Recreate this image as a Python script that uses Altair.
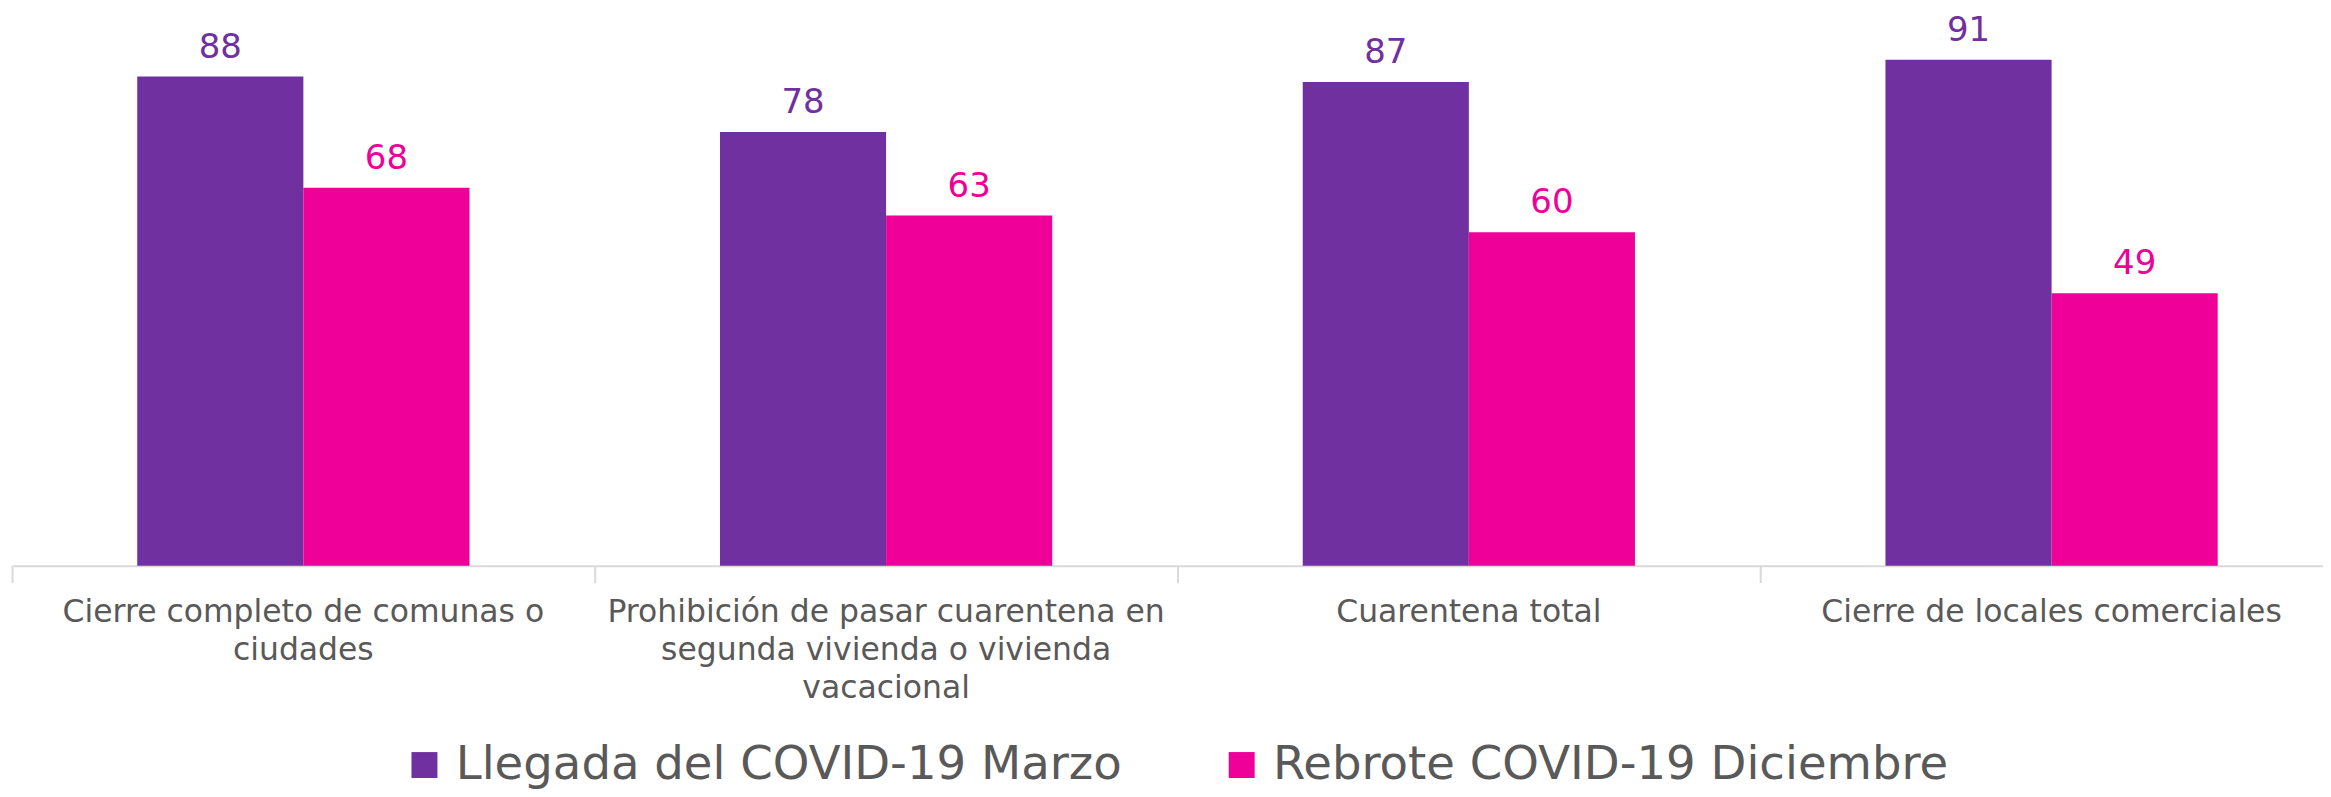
import altair as alt
import pandas as pd

categories = [
    "Cierre completo de comunas o ciudades",
    "Prohibición de pasar cuarentena en segunda vivienda o vivienda vacacional",
    "Cuarentena total",
    "Cierre de locales comerciales",
]
category_lines = [
    ["Cierre completo de comunas o", "ciudades"],
    ["Prohibición de pasar cuarentena en", "segunda vivienda o vivienda", "vacacional"],
    ["Cuarentena total"],
    ["Cierre de locales comerciales"],
]
series = ["Llegada del COVID-19 Marzo", "Rebrote COVID-19 Diciembre"]
marzo = [88, 78, 87, 91]
diciembre = [68, 63, 60, 49]
colors = ["#7030A0", "#EE0099"]

rows = []
for c, m, d in zip(categories, marzo, diciembre):
    rows.append({"cat": c, "serie": series[0], "valor": m})
    rows.append({"cat": c, "serie": series[1], "valor": d})
df = pd.DataFrame(rows)

def js_str(s):
    return "'" + s.replace("'", "\\'") + "'"

expr = "datum.value"
for c, lines in reversed(list(zip(categories, category_lines))):
    arr = "[" + ",".join(js_str(l) for l in lines) + "]"
    expr = f"datum.value == {js_str(c)} ? {arr} : ({expr})"

FONT = "DejaVu Sans"

x_enc = alt.X(
    "cat:N",
    sort=categories,
    scale=alt.Scale(range=[0, 2336], paddingInner=0, paddingOuter=0),
    axis=alt.Axis(
        title=None,
        labelAngle=0,
        labelExpr=expr,
        labelFont=FONT,
        labelFontSize=31.5,
        labelColor="#595959",
        labelLineHeight=38,
        labelBaseline="alphabetic",
        labelPadding=39,
        labelLimit=0,
        labelOverlap=False,
        labelBound=False,
        bandPosition=0,
        domainColor="#D9D9D9",
        domainWidth=2,
        tickColor="#D9D9D9",
        tickWidth=2,
        tickSize=17,
        grid=False,
    ),
)
xoff = alt.XOffset(
    "serie:N",
    sort=series,
    scale=alt.Scale(domain=series, paddingInner=0, paddingOuter=0.754),
)
y_enc = alt.Y("valor:Q", scale=alt.Scale(domain=[0, 100], nice=False), axis=None)
color_enc = alt.Color(
    "serie:N",
    sort=series,
    scale=alt.Scale(domain=series, range=colors),
    legend=alt.Legend(
        title=None,
        orient="none",
        direction="horizontal",
        legendX=390,
        legendY=733,
        symbolType="square",
        symbolSize=676,
        symbolStrokeWidth=0,
        symbolOpacity=1,
        labelFont=FONT,
        labelFontSize=46.7,
        labelColor="#595959",
        labelOffset=8,
        labelLimit=0,
        columnPadding=96,
        padding=0,
    ),
)

base = alt.Chart(df)
bars = base.mark_bar(opacity=1).encode(x=x_enc, xOffset=xoff, y=y_enc, color=color_enc)
labels = base.mark_text(font=FONT, fontSize=34, baseline="alphabetic", dy=-19).encode(
    x=x_enc, xOffset=xoff, y=y_enc, text="valor:Q", color=color_enc
)

chart = (
    alt.layer(bars, labels)
    .properties(
        width=2316,
        height=557,
        autosize=alt.AutoSizeParams(type="none"),
        padding={"left": 4, "top": 1, "right": 0, "bottom": 223},
    )
    .configure(background="white")
    .configure_view(stroke=None)
)

chart.save("out.html", embed_options={"renderer": "svg", "actions": False})
